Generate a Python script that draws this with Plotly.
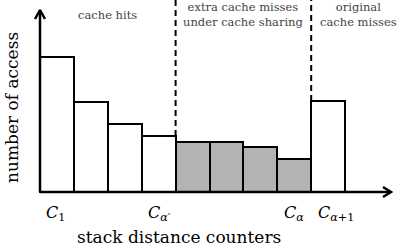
import plotly.graph_objects as go

# data
heights = [135, 90, 68, 56, 50, 50, 45, 33, 91]
colors = ["white", "white", "white", "white", "#b3b3b3", "#b3b3b3", "#b3b3b3", "#b3b3b3", "white"]
tick_pos = [0, 3, 7, 8]
tick_labels = ["<i>C</i><sub>1</sub>", "<i>C</i><sub><i>α′</i></sub>", "<i>C</i><sub><i>α</i></sub>", "<i>C</i><sub><i>α</i>+1</sub>"]
regions = [("cache hits", 1.5), ("extra cache misses<br>under cache sharing", 5.5), ("original<br>cache misses", 8.9)]
dividers = [3.5, 7.5]

W, H = 397, 252
x0px, bw = 40, 33.9
base_py = 192
xr = [(0 - x0px) / bw - 0.5, (W - x0px) / bw - 0.5]
yr = [base_py - H, base_py]

FONT = "DejaVu Serif, serif"
fig = go.Figure()
fig.add_trace(go.Bar(x=list(range(len(heights))), y=heights, width=1,
                     marker=dict(color=colors, line=dict(color="black", width=2)),
                     showlegend=False, hoverinfo="skip"))

# axes with arrows
xmin = -0.5
xend = (391 - x0px) / bw - 0.5
ytop = base_py - 10
fig.add_shape(type="line", x0=xmin, x1=xend, y0=0, y1=0, line=dict(color="black", width=2.5))
fig.add_shape(type="line", x0=xmin, x1=xmin, y0=0, y1=ytop, line=dict(color="black", width=2.5))
# chevrons
ax = 8 / bw
fig.add_trace(go.Scatter(x=[xend - ax, xend, xend - ax], y=[5, 0, -5], mode="lines",
                         line=dict(color="black", width=2.5), showlegend=False, hoverinfo="skip"))
fig.add_trace(go.Scatter(x=[xmin - 5 / bw, xmin, xmin + 5 / bw], y=[ytop - 9, ytop, ytop - 9], mode="lines",
                         line=dict(color="black", width=2.5), showlegend=False, hoverinfo="skip"))

# dashed dividers
fig.add_shape(type="line", x0=dividers[0], x1=dividers[0], y0=heights[3], y1=yr[1],
              line=dict(color="black", width=2, dash="6px,4px"))
fig.add_shape(type="line", x0=dividers[1], x1=dividers[1], y0=heights[8], y1=yr[1],
              line=dict(color="black", width=2, dash="6px,4px"))

for text, xc in regions:
    fig.add_annotation(x=xc, y=base_py - 14.5, text=text, showarrow=False, yanchor="middle",
                       font=dict(family=FONT, size=11.5, color="#444444"), align="center")

for p, t in zip(tick_pos, tick_labels):
    fig.add_annotation(x=p - 0.37, y=-21, text=t, showarrow=False, xanchor="left", yanchor="middle",
                       font=dict(family=FONT, size=16, color="black"))

fig.add_annotation(x=(179 - x0px) / bw - 0.5, y=base_py - 237, text="stack distance counters",
                   showarrow=False, yanchor="middle", font=dict(family=FONT, size=17, color="black"))
fig.add_annotation(x=(12 - x0px) / bw - 0.5, y=base_py - 108, text="number of access", textangle=-90,
                   showarrow=False, font=dict(family=FONT, size=17, color="black"))

fig.update_layout(width=W, height=H, margin=dict(l=0, r=0, t=0, b=0),
                  paper_bgcolor="white", plot_bgcolor="white", bargap=0,
                  xaxis=dict(range=xr, visible=False, fixedrange=True),
                  yaxis=dict(range=yr, visible=False, fixedrange=True))
fig.write_html("out.html")
